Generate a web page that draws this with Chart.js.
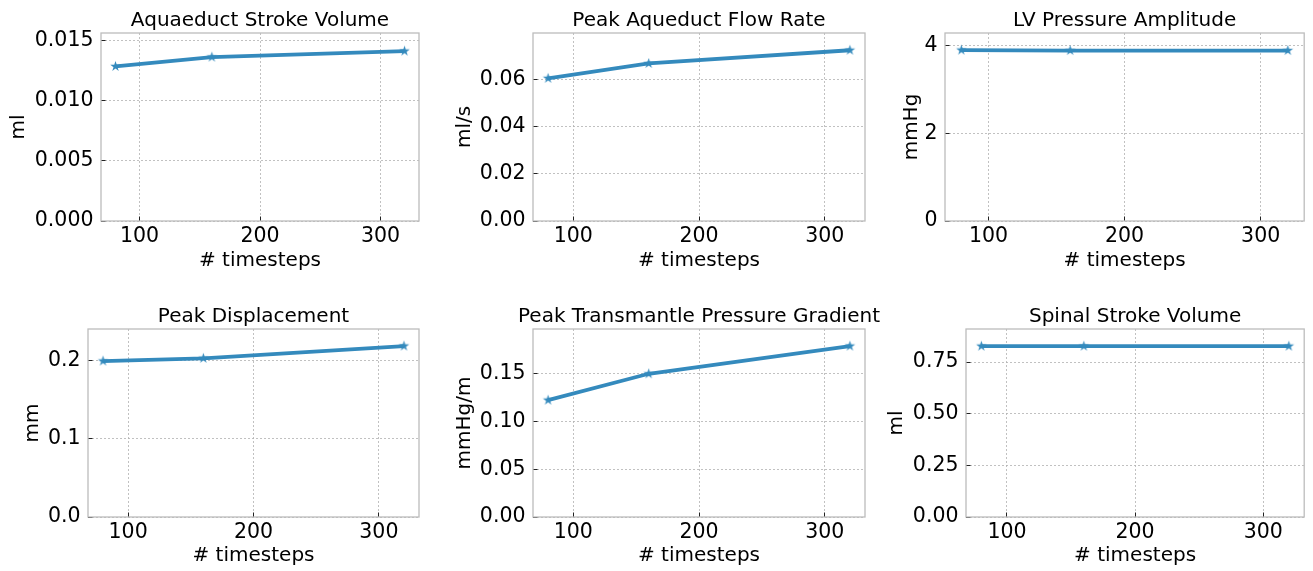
<!DOCTYPE html>
<html>
<head>
<meta charset="utf-8">
<script src="https://cdn.jsdelivr.net/npm/chart.js@4"></script>
<style>
  html, body { margin: 0; padding: 0; background: #fff; }
  #fig { position: relative; width: 1313px; height: 571px; overflow: hidden; }
  #fig canvas { position: absolute; left: 0; top: 0; }
</style>
</head>
<body>
<div id="fig"></div>
<script>
// values
const timesteps = [80, 160, 320];
const xTickLabels = ['100', '200', '300'];

const aqueductStrokeVolume = [0.01283, 0.0136, 0.0141];
const peakAqueductFlowRate = [0.0604, 0.0667, 0.0723];
const lvPressureAmplitude = [3.90, 3.89, 3.89];
const peakDisplacement = [0.1996, 0.2031, 0.2188];
const peakTransmantleGradient = [0.1224, 0.150, 0.179];
const spinalStrokeVolume = [0.827, 0.827, 0.827];

const ticksAqueductSV = ['0.000', '0.005', '0.010', '0.015'];
const ticksFlowRate = ['0.00', '0.02', '0.04', '0.06'];
const ticksLV = ['0', '2', '4'];
const ticksDisplacement = ['0.0', '0.1', '0.2'];
const ticksGradient = ['0.00', '0.05', '0.10', '0.15'];
const ticksSpinalSV = ['0.00', '0.25', '0.50', '0.75'];

const panels = [
  { title: 'Aquaeduct Stroke Volume', unit: 'ml', values: aqueductStrokeVolume, ticks: ticksAqueductSV, yMax: 0.0156 },
  { title: 'Peak Aqueduct Flow Rate', unit: 'ml/s', values: peakAqueductFlowRate, ticks: ticksFlowRate, yMax: 0.0796 },
  { title: 'LV Pressure Amplitude', unit: 'mmHg', values: lvPressureAmplitude, ticks: ticksLV, yMax: 4.29 },
  { title: 'Peak Displacement', unit: 'mm', values: peakDisplacement, ticks: ticksDisplacement, yMax: 0.2406 },
  { title: 'Peak Transmantle Pressure Gradient', unit: 'mmHg/m', values: peakTransmantleGradient, ticks: ticksGradient, yMax: 0.1969 },
  { title: 'Spinal Stroke Volume', unit: 'ml', values: spinalStrokeVolume, ticks: ticksSpinalSV, yMax: 0.91 },
];

// where each plot box sits on the page (left, top, right, bottom, y-label centre)
const boxes = [
  { l: 101, t: 33, r: 419, b: 221, yc: 19, xb: 273 },
  { l: 533, t: 33, r: 865, b: 221, yc: 465, xb: 273 },
  { l: 945, t: 33, r: 1308, b: 221, yc: 912, xb: 273 },
  { l: 88, t: 329, r: 419, b: 517, yc: 33, xb: 568 },
  { l: 533, t: 329, r: 865, b: 517, yc: 465, xb: 568 },
  { l: 966, t: 329, r: 1312, b: 517, yc: 897, xb: 568 },
];

const W = 1313, H = 571;
const BLUE = '#348ABD';
const FONT = "'DejaVu Sans', sans-serif";
Chart.defaults.color = '#000';
Chart.defaults.font.family = FONT;

// filled five-pointed star like matplotlib's '*'
function starMarker(r, color) {
  const c = document.createElement('canvas');
  const s = Math.ceil(r * 2 + 2);
  c.width = s; c.height = s;
  const g = c.getContext('2d');
  g.translate(s / 2, s / 2);
  g.beginPath();
  for (let i = 0; i < 10; i++) {
    const rad = i % 2 === 0 ? r : r * 0.382;
    const a = -Math.PI / 2 + i * Math.PI / 5;
    const px = Math.cos(a) * rad, py = Math.sin(a) * rad;
    i === 0 ? g.moveTo(px, py) : g.lineTo(px, py);
  }
  g.closePath();
  g.fillStyle = color;
  g.fill();
  return c;
}
const star = starMarker(5.5, BLUE);

// spines all round + title centred over the plot box
const framePlugin = {
  id: 'frame',
  afterDatasetsDraw(chart) {
    const { ctx, chartArea: a } = chart;
    ctx.save();
    ctx.strokeStyle = '#bcbcbc';
    ctx.lineWidth = 1.3;
    ctx.strokeRect(a.left, a.top, a.right - a.left, a.bottom - a.top);
    ctx.restore();
  },
  afterDraw(chart, args, opts) {
    const { ctx, chartArea: a } = chart;
    ctx.save();
    ctx.font = '20px ' + FONT;
    ctx.fillStyle = '#000';
    ctx.textAlign = 'center';
    ctx.textBaseline = 'alphabetic';
    ctx.fillText(opts.text, (a.left + a.right) / 2, a.top - 7.5);
    ctx.restore();
  }
};

const fig = document.getElementById('fig');

panels.forEach((p, i) => {
  const bx = boxes[i];
  const cv = document.createElement('canvas');
  cv.width = W; cv.height = H;
  cv.style.width = W + 'px'; cv.style.height = H + 'px';
  fig.appendChild(cv);

  const padLeft = bx.yc - 12;
  const yw = bx.l - padLeft;
  const xh = bx.xb - bx.b;

  new Chart(cv.getContext('2d'), {
    type: 'line',
    data: {
      datasets: [{
        data: timesteps.map((x, k) => ({ x, y: p.values[k] })),
        borderColor: BLUE,
        backgroundColor: BLUE,
        borderWidth: 3.8,
        pointStyle: star,
        pointRadius: 5,
        tension: 0,
      }]
    },
    options: {
      responsive: false,
      animation: false,
      devicePixelRatio: 1,
      events: [],
      layout: {
        padding: { left: padLeft, top: bx.t, right: W - bx.r, bottom: H - bx.xb }
      },
      plugins: {
        legend: { display: false },
        tooltip: { enabled: false },
        frame: { text: p.title },
      },
      scales: {
        x: {
          type: 'linear',
          min: 68, max: 332,
          afterFit: s => { s.height = xh; },
          afterBuildTicks: s => { s.ticks = xTickLabels.map(v => ({ value: Number(v) })); },
          ticks: {
            font: { size: 20.5, lineHeight: 1.2 },
            padding: 7.5,
            maxRotation: 0,
            callback: v => String(v),
          },
          grid: {
            color: '#b2b2b2', lineWidth: 0.8,
            tickLength: -4.5, tickColor: '#222', tickWidth: 1, tickBorderDash: [],
          },
          border: { display: false, dash: [2, 2] },
          title: {
            display: true, text: '# timesteps',
            font: { size: 20, lineHeight: 1.2 }, padding: 0,
          },
        },
        y: {
          min: 0, max: p.yMax,
          afterFit: s => { s.width = yw; },
          afterBuildTicks: s => { s.ticks = p.ticks.map(v => ({ value: parseFloat(v) })); },
          ticks: {
            font: { size: 20.5, lineHeight: 1.2 },
            padding: 12,
            callback: (v, k) => p.ticks[k],
          },
          grid: {
            color: '#b2b2b2', lineWidth: 0.8,
            tickLength: -4.5, tickColor: '#222', tickWidth: 1, tickBorderDash: [],
          },
          border: { display: false, dash: [2, 2] },
          title: {
            display: true, text: p.unit,
            font: { size: 20, lineHeight: 1.2 }, padding: 0,
          },
        }
      }
    },
    plugins: [framePlugin]
  });
});
</script>
</body>
</html>
